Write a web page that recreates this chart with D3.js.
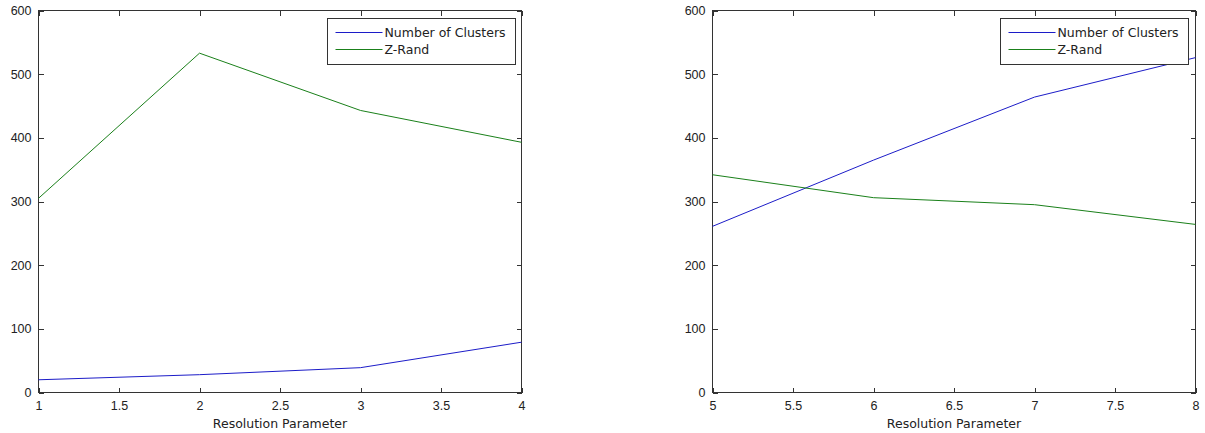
<!DOCTYPE html>
<html>
<head>
<meta charset="utf-8">
<script src="https://cdn.jsdelivr.net/npm/d3@7"></script>
<style>
  html, body { margin: 0; padding: 0; background: #fff; }
  svg { display: block; font-family: "DejaVu Sans", "Liberation Sans", Arial, sans-serif; }
</style>
</head>
<body>
<svg id="chart" width="1205" height="433"></svg>
<script>
// Resolution sweep results, two panels
const leftResolution = [1, 2, 3, 4];
const leftClusters = [20, 28, 39, 79];
const leftZRand = [305, 533, 443, 393];

const rightResolution = [5, 6, 7, 8];
const rightClusters = [261, 365, 464, 526];
const rightZRand = [342, 306, 295, 264];

const leftXTicks = [1, 1.5, 2, 2.5, 3, 3.5, 4];
const rightXTicks = [5, 5.5, 6, 6.5, 7, 7.5, 8];
const yTicks = [0, 100, 200, 300, 400, 500, 600];

const seriesNames = ["Number of Clusters", "Z-Rand"];
const seriesColors = ["#1c1cc8", "#1a801a"];
const xLabel = "Resolution Parameter";

const svg = d3.select("#chart");
const axisColor = "#333";
const textColor = "#222";

function panel(opts) {
  const { left, right, top, bottom, xs, clusters, zrand, xTicks, legend } = opts;
  const x = d3.scaleLinear().domain(d3.extent(xTicks)).range([left, right]);
  const y = d3.scaleLinear().domain([0, 600]).range([bottom, top]);
  const g = svg.append("g");

  const tickLen = 5;
  const fmt = d => String(d);

  // plot frame
  g.append("rect").attr("x", left).attr("y", top)
    .attr("width", right - left).attr("height", bottom - top)
    .attr("fill", "none").attr("stroke", axisColor).attr("stroke-width", 1)
    .attr("shape-rendering", "crispEdges");

  // axes with inward ticks on all four sides
  const xb = g.append("g").attr("transform", `translate(0,${bottom})`)
    .call(d3.axisBottom(x).tickValues(xTicks).tickFormat(fmt).tickSizeInner(-tickLen).tickSizeOuter(0).tickPadding(9));
  const xt = g.append("g").attr("transform", `translate(0,${top})`)
    .call(d3.axisTop(x).tickValues(xTicks).tickFormat("").tickSizeInner(-tickLen).tickSizeOuter(0));
  const yl = g.append("g").attr("transform", `translate(${left},0)`)
    .call(d3.axisLeft(y).tickValues(yTicks).tickFormat(fmt).tickSizeInner(-tickLen).tickSizeOuter(0).tickPadding(7));
  const yr = g.append("g").attr("transform", `translate(${right},0)`)
    .call(d3.axisRight(y).tickValues(yTicks).tickFormat("").tickSizeInner(-tickLen).tickSizeOuter(0));

  [xb, xt, yl, yr].forEach(a => {
    a.select(".domain").remove();
    a.selectAll(".tick line").attr("stroke", axisColor).attr("shape-rendering", "crispEdges");
    a.selectAll(".tick text").attr("fill", textColor)
      .style("font-family", "inherit").style("font-size", "12.5px");
  });

  // axis title
  g.append("text").attr("x", (left + right) / 2).attr("y", bottom + 35)
    .attr("text-anchor", "middle").attr("fill", textColor).style("font-size", "12.5px")
    .text(xLabel);

  // series lines
  const line = d3.line().x(d => x(d[0])).y(d => y(d[1]));
  [clusters, zrand].forEach((vals, i) => {
    g.append("path").datum(xs.map((v, j) => [v, vals[j]]))
      .attr("d", line).attr("fill", "none")
      .attr("stroke", seriesColors[i]).attr("stroke-width", 1);
  });

  // legend
  const lg = g.append("g");
  lg.append("rect").attr("x", legend.x).attr("y", legend.y)
    .attr("width", legend.w).attr("height", legend.h)
    .attr("fill", "#fff").attr("stroke", axisColor).attr("stroke-width", 1)
    .attr("shape-rendering", "crispEdges");
  seriesNames.forEach((name, i) => {
    const ly = legend.y + 14 + i * 17;
    lg.append("line").attr("x1", legend.x + 8).attr("x2", legend.x + 55)
      .attr("y1", ly).attr("y2", ly)
      .attr("stroke", seriesColors[i]).attr("stroke-width", 1);
    lg.append("text").attr("x", legend.x + 57).attr("y", ly + 4.5)
      .attr("fill", textColor).style("font-size", "12.5px").text(name);
  });
}

panel({
  left: 38.5, right: 521.5, top: 10.5, bottom: 392.5,
  xs: leftResolution, clusters: leftClusters, zrand: leftZRand,
  xTicks: leftXTicks,
  legend: { x: 327.5, y: 18.5, w: 188, h: 46 }
});

panel({
  left: 712.5, right: 1195.5, top: 10.5, bottom: 392.5,
  xs: rightResolution, clusters: rightClusters, zrand: rightZRand,
  xTicks: rightXTicks,
  legend: { x: 1000.5, y: 18.5, w: 188, h: 46 }
});
</script>
</body>
</html>
